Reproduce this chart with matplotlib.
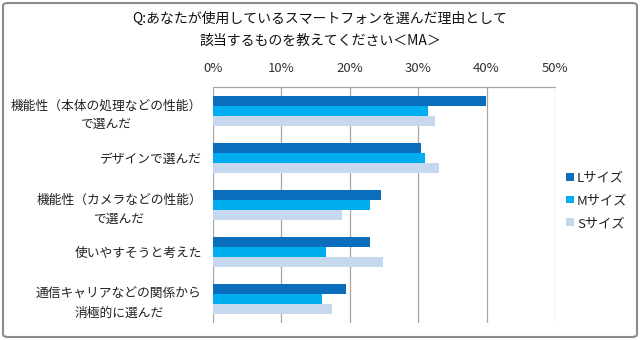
import matplotlib
matplotlib.use("Agg")
import matplotlib.pyplot as plt
import numpy as np
from matplotlib.patches import FancyBboxPatch

plt.rcParams['font.family'] = ['Noto Sans CJK JP', 'DejaVu Sans']

categories = ["機能性（本体の処理などの性能）\nで選んだ",
              "デザインで選んだ",
              "機能性（カメラなどの性能）\nで選んだ",
              "使いやすそうと考えた",
              "通信キャリアなどの関係から\n消極的に選んだ"]
series_names = ["Lサイズ", "Mサイズ", "Sサイズ"]
L_vals = [39.9, 30.4, 24.5, 22.9, 19.5]
M_vals = [31.4, 31.0, 22.9, 16.5, 16.0]
S_vals = [32.4, 33.0, 18.9, 24.9, 17.4]
xticks = [0, 10, 20, 30, 40, 50]
xtick_labels = ["0%", "10%", "20%", "30%", "40%", "50%"]
title = "Q:あなたが使用しているスマートフォンを選んだ理由として\n該当するものを教えてください＜MA＞"
colors = ["#0A6EBD", "#00AEEF", "#C6D8EE"]

fig = plt.figure(figsize=(6.4, 3.4), dpi=100)
ax = fig.add_axes([213/640, 1-322.7/340, (555-213)/640, (322.7-87.3)/340])

n = len(categories)
y = np.arange(n)
h = 0.212
for i, (vals, c, name) in enumerate(zip([L_vals, M_vals, S_vals], colors, series_names)):
    ax.barh(y + (i - 1) * h, vals, height=h, color=c, label=name, zorder=3)

ax.set_ylim(n - 0.5, -0.5)
ax.set_xlim(0, 50)
ax.set_xticks(xticks)
ax.set_xticklabels(xtick_labels, fontsize=9.5, color="#333333")
ax.xaxis.tick_top()
ax.tick_params(axis='x', length=0, pad=9)
ax.set_yticks(y)
ax.set_yticklabels(categories, fontsize=9.2, color="#222222", linespacing=1.6,
                   multialignment="center")
ax.tick_params(axis='y', length=0, pad=8)
ax.grid(axis='x', color="#A6A6A6", linewidth=0.9, zorder=0)
for s in ["left", "right", "bottom"]:
    ax.spines[s].set_visible(False)
ax.spines["top"].set_color("#A6A6A6")
ax.spines["top"].set_linewidth(0.9)

fig.text(0.5, 1 - 30/340, title, ha="center", va="center", fontsize=10,
         color="#111111", linespacing=1.7)

leg = ax.legend(loc="upper left", bbox_to_anchor=(561/640, 1-166/340),
                bbox_transform=fig.transFigure, frameon=False, fontsize=9.5,
                handlelength=0.55, handleheight=0.55, handletextpad=0.25,
                labelspacing=0.75, borderaxespad=0)
for t in leg.get_texts():
    t.set_color("#222222")

border = FancyBboxPatch((3/640, 3/340), 634/640, 334/340,
                        boxstyle="round,pad=0,rounding_size=0.008",
                        transform=fig.transFigure, fill=False,
                        edgecolor="#8C8C8C", linewidth=1.5)
fig.patches.append(border)

fig.savefig("out.png", dpi=100)
